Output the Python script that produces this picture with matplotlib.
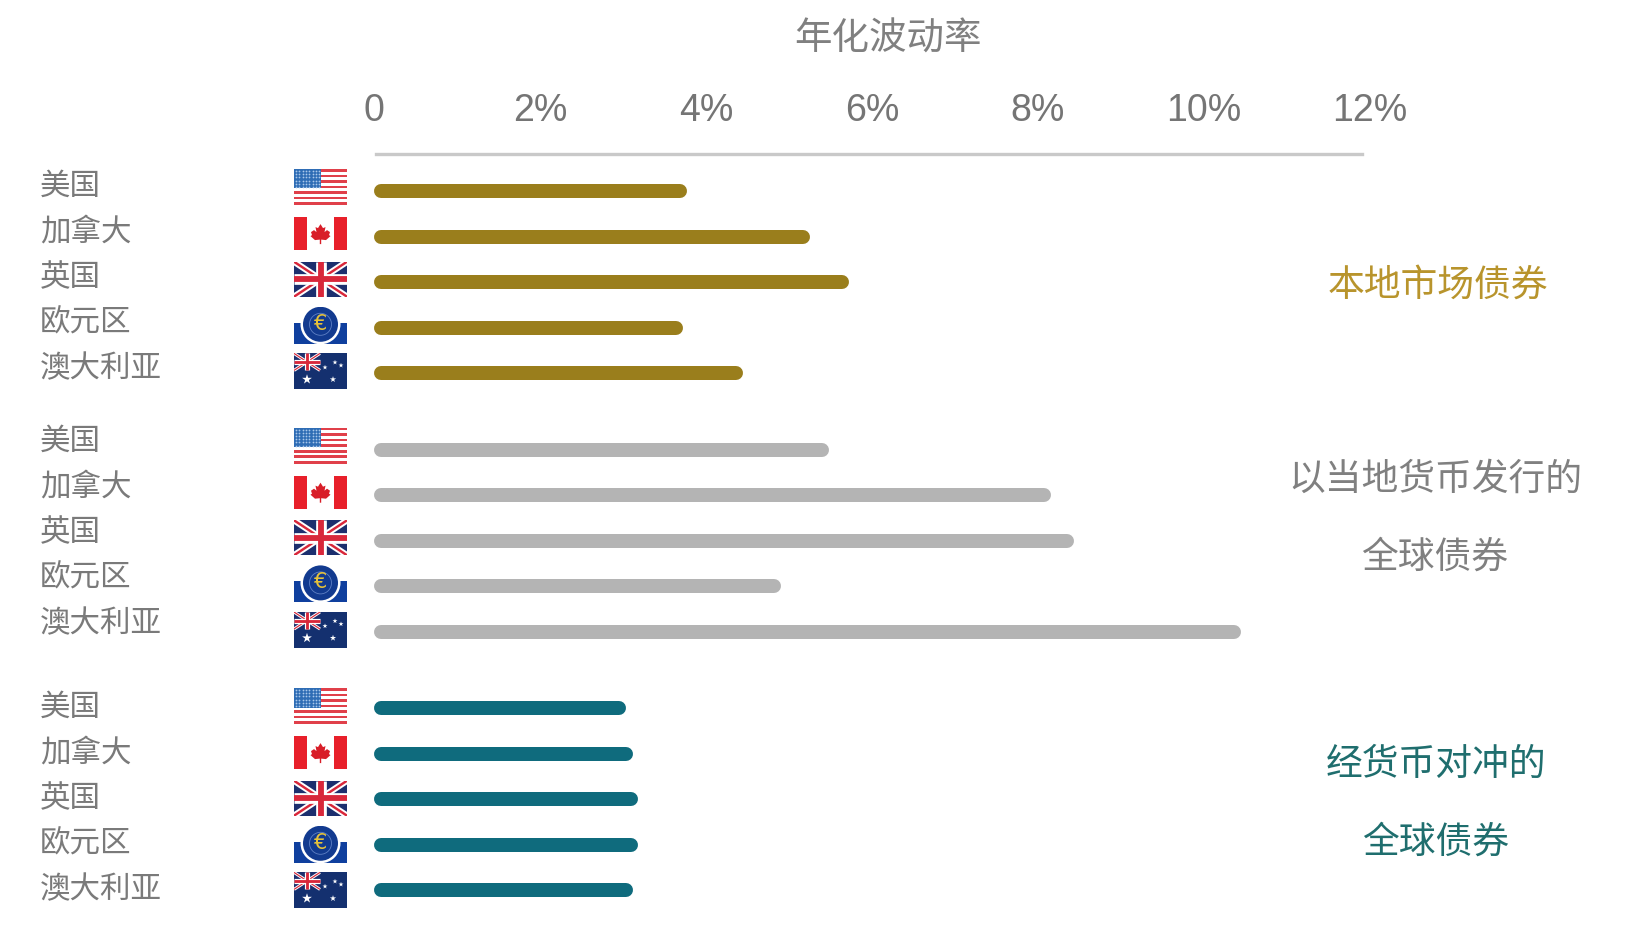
import matplotlib
matplotlib.use('Agg')
import matplotlib.pyplot as plt
from matplotlib.patches import Rectangle, Circle, Polygon

plt.rcParams['font.family'] = ['Noto Sans CJK SC', 'DejaVu Sans']

W, H = 1647, 946

# data
countries = ['美国', '加拿大', '英国', '欧元区', '澳大利亚']
flag_names = ['us', 'ca', 'uk', 'eu', 'au']
local_bonds = [3.77, 5.25, 5.72, 3.72, 4.45]
global_unhedged = [5.48, 8.16, 8.43, 4.90, 10.45]
global_hedged = [3.04, 3.12, 3.18, 3.18, 3.12]
x_ticks = [0, 2, 4, 6, 8, 10, 12]
x_tick_labels = ['0', '2%', '4%', '6%', '8%', '10%', '12%']
title = '年化波动率'
group_labels = [['本地市场债券'], ['以当地货币发行的', '全球债券'], ['经货币对冲的', '全球债券']]

series = [local_bonds, global_unhedged, global_hedged]
bar_colors = ['#9a7e1c', '#b4b4b4', '#0f6b7d']
text_colors = ['#b8942c', '#808080', '#1f6e6e']
label_grey = '#7a7a7a'

# layout in pixels of the picture
x0, px_per_pct = 374, 83.0
axis_y = 154
group_y = [191, 449.6, 708]
row_step = 45.6
group_text_x = [1438, 1435, 1436]
group_text_y = [[285], [479, 557], [764, 842]]
label_offset = [5, 8.5, 1]
flag_shift = [0, 0, 2]
bar_px = 14

fig = plt.figure(figsize=(W / 100, H / 100), dpi=100, facecolor='white')
ax = fig.add_axes([x0 / W, 0, 12 * px_per_pct / W, 1 - axis_y / H])
ax.set_xlim(0, 12)
ax.set_ylim(H, axis_y)
ax.patch.set_alpha(0)

for s in ['left', 'right', 'bottom']:
    ax.spines[s].set_visible(False)
ax.spines['top'].set_color('#c9c9c9')
ax.spines['top'].set_linewidth(2.4)
ax.spines['top'].set_bounds(0.02, 11.9)
ax.set_yticks([])
ax.xaxis.tick_top()
ax.set_xticks(x_ticks)
ax.set_xticklabels(x_tick_labels, family='Liberation Sans', fontsize=27, color='#757575')
ax.tick_params(axis='x', length=0, pad=18)


def flag_axes(y_center, height):
    a = fig.add_axes([294 / W, 1 - (y_center + height / 2) / H, 53 / W, height / H])
    a.set_xlim(0, 53)
    a.set_ylim(height, 0)
    a.axis('off')
    return a


def union_jack(a, w, h):
    a.add_patch(Rectangle((0, 0), w, h, color='#1c2f6e', lw=0))
    for pts in [[(0, 0), (w, h)], [(0, h), (w, 0)]]:
        a.plot(*zip(*pts), color='white', lw=h * 0.13, solid_capstyle='butt')
        a.plot(*zip(*pts), color='#d8273a', lw=h * 0.05, solid_capstyle='butt')
    a.plot([w / 2, w / 2], [0, h], color='white', lw=h * 0.22, solid_capstyle='butt')
    a.plot([0, w], [h / 2, h / 2], color='white', lw=h * 0.22, solid_capstyle='butt')
    a.plot([w / 2, w / 2], [0, h], color='#d8273a', lw=h * 0.12, solid_capstyle='butt')
    a.plot([0, w], [h / 2, h / 2], color='#d8273a', lw=h * 0.12, solid_capstyle='butt')


def draw_flag(name, row_y):
    if name == 'us':
        a = flag_axes(row_y - 4, 36)
        for i in range(13):
            a.add_patch(Rectangle((0, i * 36 / 13), 53, 36 / 13,
                                  color='#e0404a' if i % 2 == 0 else 'white', lw=0))
        a.add_patch(Rectangle((0, 0), 27, 19.5, color='#2f6db5', lw=0))
        xs = [2 + i * 3.3 for i in range(8) for j in range(6)]
        ys = [2 + j * 3.2 for i in range(8) for j in range(6)]
        a.scatter(xs, ys, s=1.6, color='#a9c8ea', lw=0)
    elif name == 'ca':
        a = flag_axes(row_y - 3, 33)
        a.add_patch(Rectangle((0, 0), 53, 33, color='white', lw=0))
        a.add_patch(Rectangle((0, 0), 13, 33, color='#e8202a', lw=0))
        a.add_patch(Rectangle((40, 0), 13, 33, color='#e8202a', lw=0))
        leaf = [(26.5, 7), (29, 11), (31.5, 10), (30.5, 15), (33, 13), (36, 15), (35, 18),
                (36.5, 19), (32, 23), (27.2, 22.5), (27.2, 27), (25.8, 27), (25.8, 22.5),
                (21, 23), (16.5, 19), (18, 18), (17, 15), (20, 13), (22.5, 15), (21.5, 10), (24, 11)]
        a.add_patch(Polygon(leaf, color='#d81e28', lw=0))
    elif name == 'uk':
        a = flag_axes(row_y - 3, 35)
        union_jack(a, 53, 35)
    elif name == 'eu':
        a = flag_axes(row_y - 2.5, 37)
        a.set_aspect('equal')
        a.add_patch(Rectangle((0, 16), 53, 21, color='#0f3f9e', lw=0))
        a.add_patch(Circle((26.5, 17.5), 20, color='white', lw=0))
        a.add_patch(Circle((26.5, 17.5), 17.5, color='#123a8f', lw=0))
        a.add_patch(Circle((26.5, 17.5), 11, fill=False, ec='#5f80c4', lw=0.6))
        a.text(26.5, 17, '€', color='#e6c23a', fontsize=15,
               family='DejaVu Sans', ha='center', va='center')
    else:
        a = flag_axes(row_y - 2, 36)
        a.add_patch(Rectangle((0, 0), 53, 36, color='#14306f', lw=0))
        union_jack(a, 26, 17)
        a.scatter([13, 31, 41, 47, 39], [26, 14, 9, 12, 26], marker='*',
                  s=[55, 14, 14, 14, 22], color='white', lw=0)


# 3 groups, 5 rows each
for g, values in enumerate(series):
    for r, v in enumerate(values):
        y = group_y[g] + r * row_step
        cap = bar_px / 2 / px_per_pct
        ax.plot([cap, v - cap], [y, y], color=bar_colors[g], lw=bar_px * 0.72,
                solid_capstyle='round', clip_on=False)
        fig.text(40 / W, 1 - (y - label_offset[g]) / H, countries[r], fontsize=22, color=label_grey,
                 ha='left', va='center', fontweight='light')
        draw_flag(flag_names[r], y + flag_shift[g])
    for line, ty in zip(group_labels[g], group_text_y[g]):
        fig.text(group_text_x[g] / W, 1 - ty / H, line, fontsize=26.5, color=text_colors[g],
                 ha='center', va='center', fontweight='light')

fig.text(888 / W, 1 - 39 / H, title, fontsize=27, color='#808080', ha='center', va='center',
         fontweight='light')

plt.savefig('out.png', dpi=100)
